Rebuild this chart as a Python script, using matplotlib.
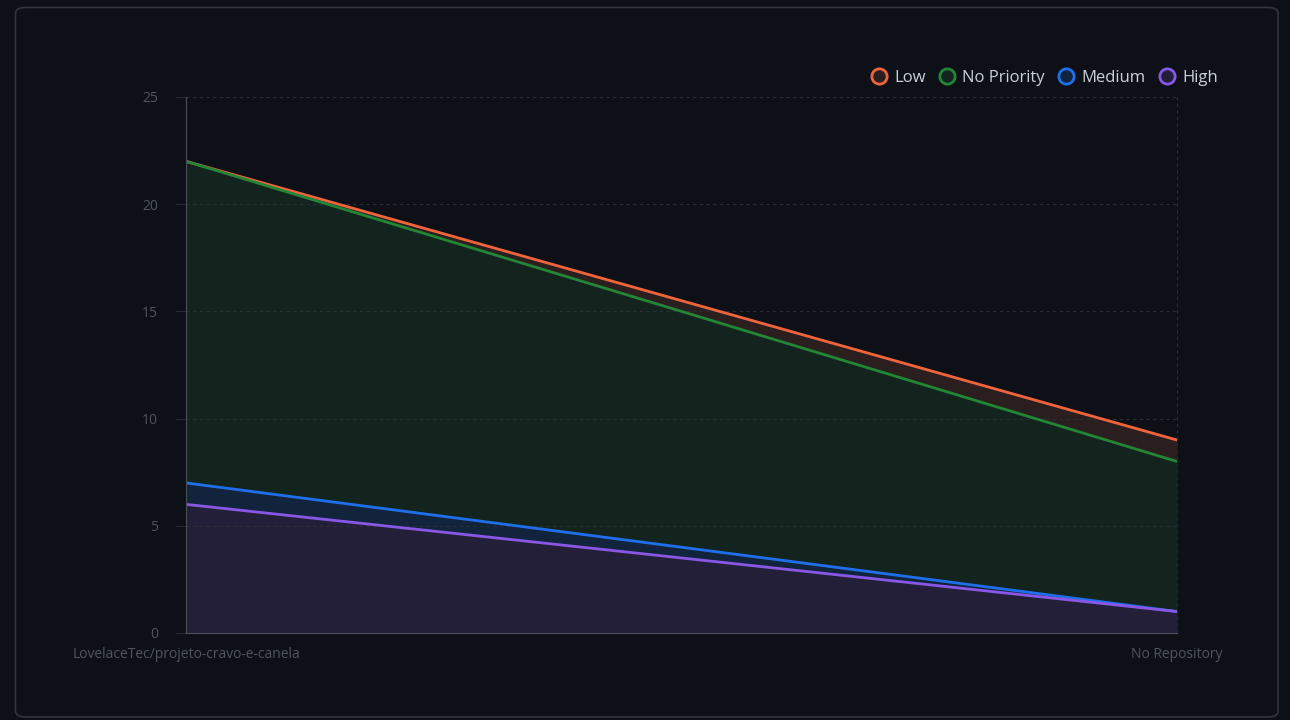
import numpy as np
import matplotlib.pyplot as plt
from matplotlib.lines import Line2D
from matplotlib.patches import FancyBboxPatch

plt.rcParams['font.family'] = ['Open Sans', 'DejaVu Sans']

repos = ["LovelaceTec/projeto-cravo-e-canela", "No Repository"]
# stacked counts per priority (bottom to top)
high = [6, 1]
medium = [1, 0]
no_priority = [15, 7]
low = [0, 1]

series_names = ["High", "Medium", "No Priority", "Low"]
series_vals = [high, medium, no_priority, low]
line_colors = ["#8957e5", "#1f6feb", "#238636", "#f0643c"]
fill_colors = ["#231f38", "#12233c", "#13231e", "#2a1f1e"]

bg = "#0d1117"
fig = plt.figure(figsize=(12.9, 7.2), dpi=100, facecolor=bg)

# card border
card = FancyBboxPatch((15.5 / 1290, 1 - 717 / 720), (1278 - 15.5) / 1290, (717 - 7.5) / 720,
                      boxstyle="round,pad=0,rounding_size=0.008", transform=fig.transFigure,
                      facecolor="none", edgecolor="#30363d", linewidth=1.2, zorder=-1)
fig.patches.append(card)

ax = fig.add_axes([186 / 1290, 1 - 633 / 720, (1177 - 186) / 1290, (633 - 97) / 720])
ax.set_facecolor(bg)

x = np.arange(len(repos))
bottom = np.zeros(len(repos))
for name, vals, lc, fc in zip(series_names, series_vals, line_colors, fill_colors):
    top = bottom + np.array(vals)
    ax.fill_between(x, bottom, top, color=fc, linewidth=0, zorder=1)
    bottom = top

# lines drawn top-down so lower series sit on top where equal
cum = np.cumsum(np.array(series_vals), axis=0)
for i in range(len(series_names) - 1, -1, -1):
    ax.plot(x, cum[i], color=line_colors[i], linewidth=2, zorder=3 + (3 - i))

ax.set_xlim(0, 1)
ax.set_ylim(0, 25)
ax.set_yticks([0, 5, 10, 15, 20, 25])
ax.set_xticks(x)
ax.set_xticklabels(repos)
ax.tick_params(axis='both', colors="#4d555f", labelcolor="#4d555f", labelsize=10)
ax.tick_params(axis='y', length=8, width=0.6, color="#2a2f36", pad=12)
ax.tick_params(axis='x', length=0, pad=10)

ax.grid(axis='y', linestyle=(0, (3, 3)), color="#2a2f36", linewidth=0.8, zorder=0)
ax.axvline(1, linestyle=(0, (3, 3)), color="#2a2f36", linewidth=0.8, zorder=0, clip_on=False)

for side in ["top", "right"]:
    ax.spines[side].set_visible(False)
ax.spines["left"].set_color("#484f58")
ax.spines["bottom"].set_color("#484f58")
ax.spines["left"].set_zorder(10)
ax.spines["bottom"].set_zorder(10)

legend_order = ["Low", "No Priority", "Medium", "High"]
handles = []
for nm in legend_order:
    i = series_names.index(nm)
    handles.append(Line2D([], [], linestyle='none', marker='o', markersize=11,
                          markerfacecolor=fill_colors[i], markeredgecolor=line_colors[i],
                          markeredgewidth=2, label=nm))
fig.legend(handles=handles, loc='center right', bbox_to_anchor=(1233 / 1290, 1 - 78 / 720),
           ncol=4, frameon=False, fontsize=12, labelcolor="#c9d1d9",
           handletextpad=0.3, columnspacing=0.7, handlelength=1.2)

fig.savefig("out.png", dpi=100, facecolor=bg)
